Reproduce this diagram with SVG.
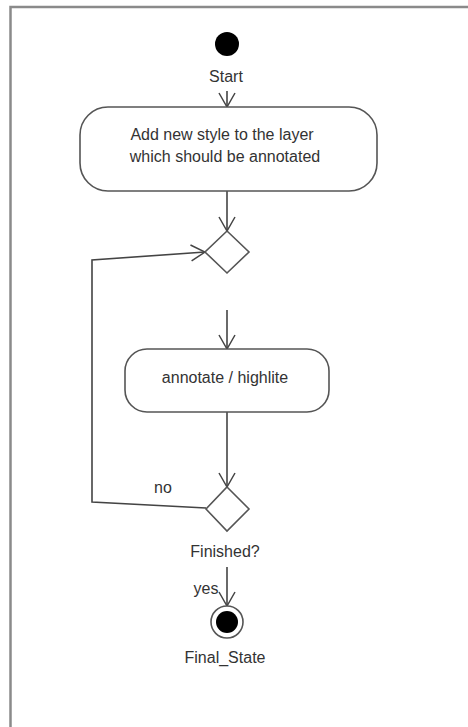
<svg xmlns="http://www.w3.org/2000/svg" width="468" height="727" viewBox="0 0 468 727">
  <style>
    .lbl { font-family: "Liberation Sans", Arial, sans-serif; font-size: 16px; fill: #333; text-anchor: middle; }
    .shape { fill: #fff; stroke: #555; stroke-width: 1.6; }
    .edge { fill: none; stroke: #444; stroke-width: 1.6; }
    .frame { fill: none; stroke: #8a8a8a; stroke-width: 2.5; }
  </style>
  <defs>
    <marker id="open" viewBox="0 0 16 18" refX="15" refY="9" markerWidth="16" markerHeight="18" markerUnits="userSpaceOnUse" orient="auto">
      <polyline points="1,1 15,9 1,17" fill="none" stroke="#444" stroke-width="1.5"/>
    </marker>
  </defs>
  <rect width="468" height="727" fill="#fff"/>

  <!-- diagram frame (top and left edges) -->
  <polyline class="frame" points="10.5,727 10.5,7 468,7"/>

  <g id="connectors">
    <line class="edge" x1="227" y1="91" x2="227" y2="107" marker-end="url(#open)"/>
    <line class="edge" x1="227" y1="191" x2="227" y2="231" marker-end="url(#open)"/>
    <polyline class="edge" points="206,508 92,502 92,260 205,252" marker-end="url(#open)"/>
    <line class="edge" x1="227" y1="310" x2="227" y2="349" marker-end="url(#open)"/>
    <line class="edge" x1="227" y1="412" x2="227" y2="487" marker-end="url(#open)"/>
    <line class="edge" x1="227" y1="567" x2="227" y2="606" marker-end="url(#open)"/>
    <text class="lbl" x="163" y="493">no</text>
    <text class="lbl" x="206" y="594">yes</text>
  </g>

  <g id="start">
    <circle cx="227" cy="44" r="12" fill="#000"/>
    <text class="lbl" x="226" y="82">Start</text>
  </g>

  <g id="add-style">
    <rect class="shape" x="80" y="107" width="297" height="84" rx="28" ry="28"/>
    <text class="lbl" x="222" y="140">Add new style to the layer</text>
    <text class="lbl" x="225" y="162">which should be annotated</text>
  </g>

  <g id="merge">
    <polygon class="shape" points="227,231 249,252 227,273 205,252"/>
  </g>

  <g id="annotate">
    <rect class="shape" x="125" y="349" width="204" height="63" rx="22" ry="22"/>
    <text class="lbl" x="225" y="383">annotate / highlite</text>
  </g>

  <g id="finished">
    <polygon class="shape" points="227,487 249,509 227,531 206,509"/>
    <text class="lbl" x="225" y="557">Finished?</text>
  </g>

  <g id="final-state">
    <circle cx="227" cy="622" r="16" fill="#fff" stroke="#555" stroke-width="1.6"/>
    <circle cx="227" cy="622" r="11" fill="#000"/>
    <text class="lbl" x="225" y="663">Final_State</text>
  </g>
</svg>
